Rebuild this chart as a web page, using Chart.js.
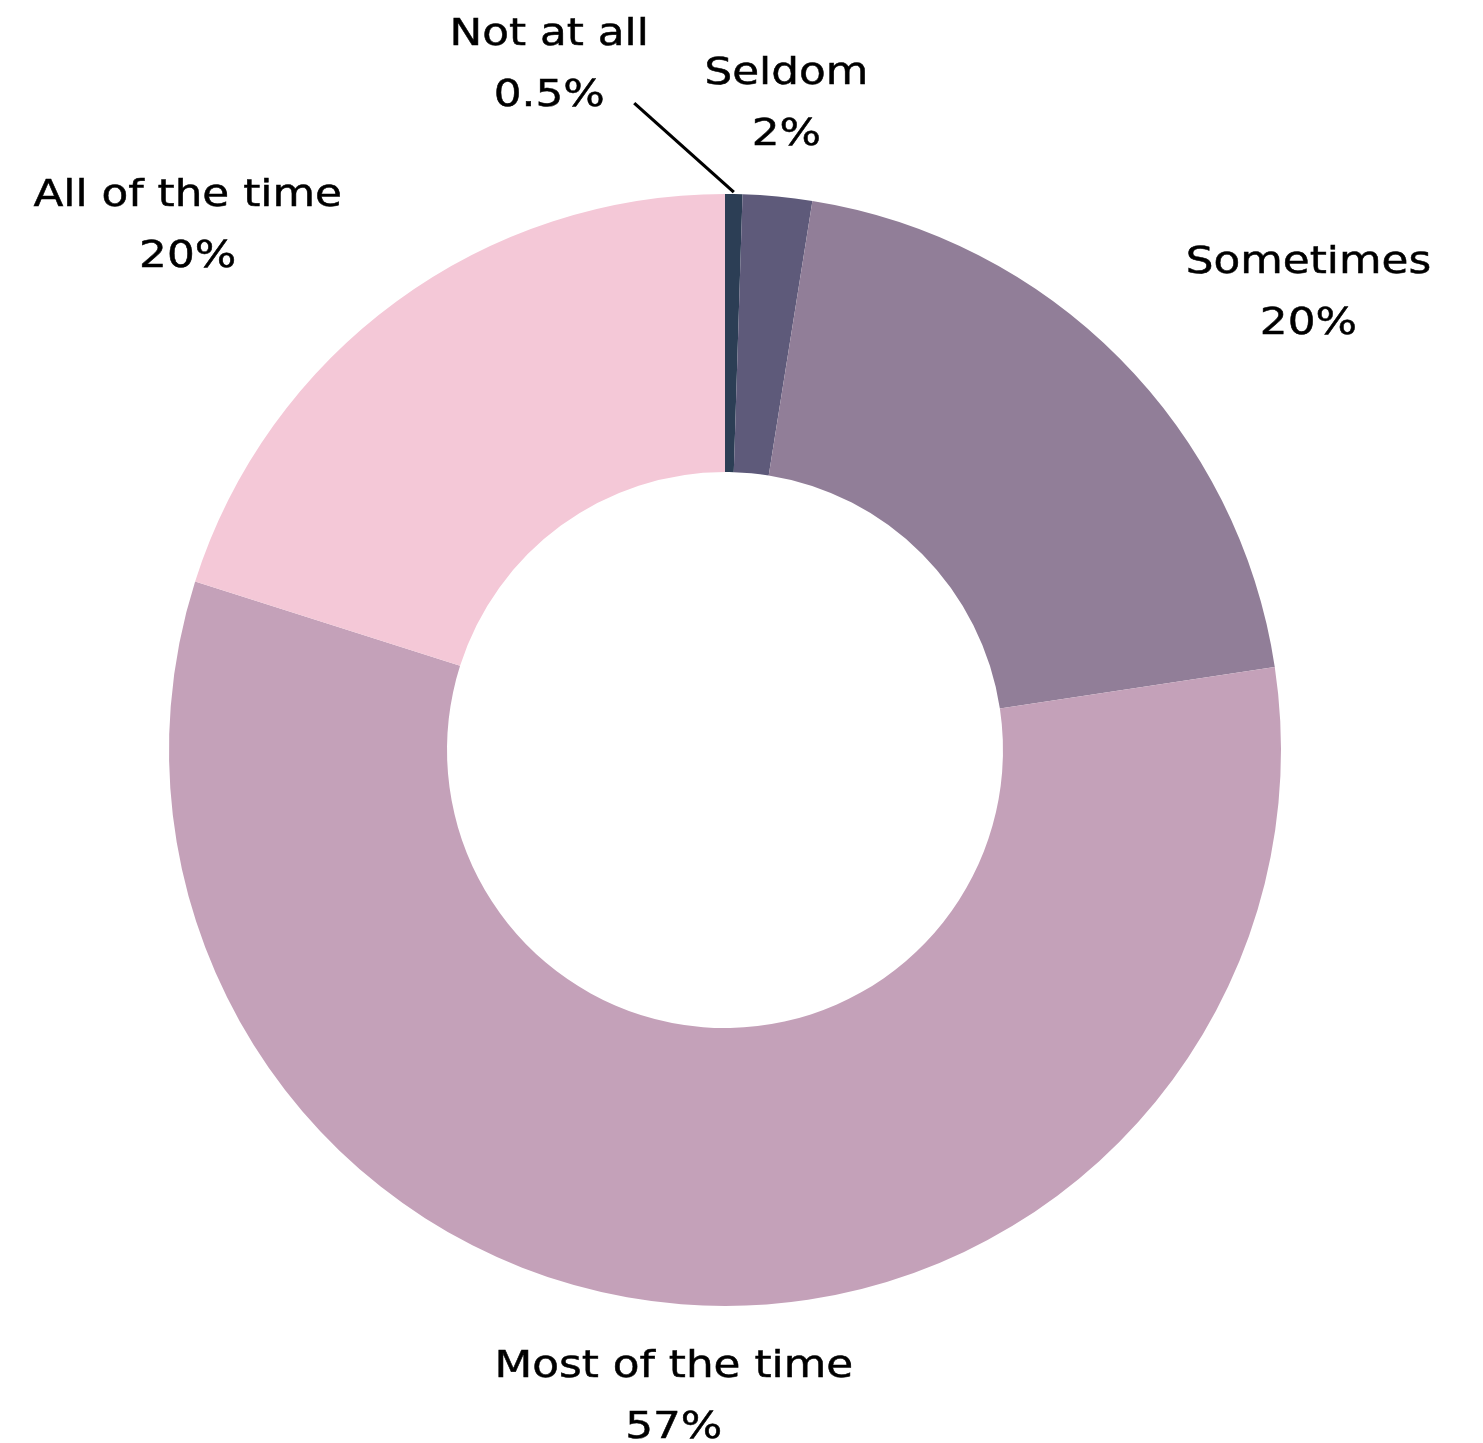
<!DOCTYPE html>
<html lang="en">
<head>
  <meta charset="UTF-8">
  <title>How often</title>
  <script src="https://cdn.jsdelivr.net/npm/chart.js"></script>
  <style>
    html, body { margin: 0; padding: 0; background: #fff; }
    #wrap { width: 1483px; height: 1443px; }
  </style>
</head>
<body>
<div id="wrap"><canvas id="grafico"></canvas></div>

<script>
  const categorias = ["Not at all", "Seldom", "Sometimes", "Most of the time", "All of the time"];
  const valores = [0.5, 2, 20, 57, 20];
  const etiquetas = ["0.5%", "2%", "20%", "57%", "20%"];
  const colores = ["#2c3e55", "#5e5a7a", "#917e98", "#c4a1b9", "#f4c8d7"];

  const FUENTE = '38px "DejaVu Sans"';
  const ESTIRAR = 1.15; // texto algo mas ancho, como la fuente original

  // etiquetas fuera del anillo, con una linea guia para la porcion pequeña
  const etiquetasFuera = {
    id: "etiquetasFuera",
    afterDatasetsDraw(chart, args, opts) {
      const ctx = chart.ctx;
      const arcos = chart.getDatasetMeta(0).data;
      ctx.save();
      ctx.font = FUENTE;
      ctx.fillStyle = "#000";
      ctx.strokeStyle = "#000";
      ctx.textBaseline = "middle";
      ctx.textAlign = "center";
      arcos.forEach((arc, i) => {
        const p = arc.getProps(["x", "y", "startAngle", "endAngle", "outerRadius"], true);
        const medio = (p.startAngle + p.endAngle) / 2;
        const r = p.outerRadius + opts.distancia;
        let ax = p.x + Math.cos(medio) * r;
        let ay = p.y + Math.sin(medio) * r;
        const lineas = [categorias[i], etiquetas[i]];
        const ancho = Math.max(...lineas.map(t => ctx.measureText(t).width)) * ESTIRAR;
        const guia = opts.guias[i];
        let cx;
        if (guia) {
          cx = ax + guia.dx;
          ay = ay + guia.dy;
          const bx = p.x + Math.cos(medio) * (p.outerRadius + 2);
          const by = p.y + Math.sin(medio) * (p.outerRadius + 2);
          ctx.beginPath();
          ctx.moveTo(cx + guia.lx, ay + guia.ly);
          ctx.lineTo(bx, by);
          ctx.lineWidth = 3.2;
          ctx.stroke();
        } else {
          const s = Math.cos(medio);
          if (Math.abs(s) < 0.3) cx = ax;
          else if (s > 0) cx = ax + ancho / 2;
          else cx = ax - ancho / 2;
        }
        ctx.lineWidth = 0.5;
        lineas.forEach((t, k) => {
          const ty = ay + (k === 0 ? -30 : 31);
          ctx.save();
          ctx.translate(cx, ty);
          ctx.scale(ESTIRAR, 1);
          ctx.fillText(t, 0, 0);
          ctx.strokeText(t, 0, 0);
          ctx.restore();
        });
      });
      ctx.restore();
    }
  };

  new Chart(document.getElementById("grafico"), {
    type: "doughnut",
    data: {
      labels: categorias,
      datasets: [{
        data: valores,
        backgroundColor: colores,
        borderWidth: 0
      }]
    },
    options: {
      responsive: true,
      maintainAspectRatio: false,
      animation: false,
      cutout: "50%",
      layout: { padding: { left: 168, right: 201, top: 194, bottom: 137 } },
      plugins: {
        legend: { display: false },
        tooltip: { enabled: false },
        etiquetasFuera: {
          distancia: 93,
          guias: { 0: { dx: -186, dy: -36, lx: 85, ly: 38 } }
        }
      }
    },
    plugins: [etiquetasFuera]
  });
</script>
</body>
</html>
